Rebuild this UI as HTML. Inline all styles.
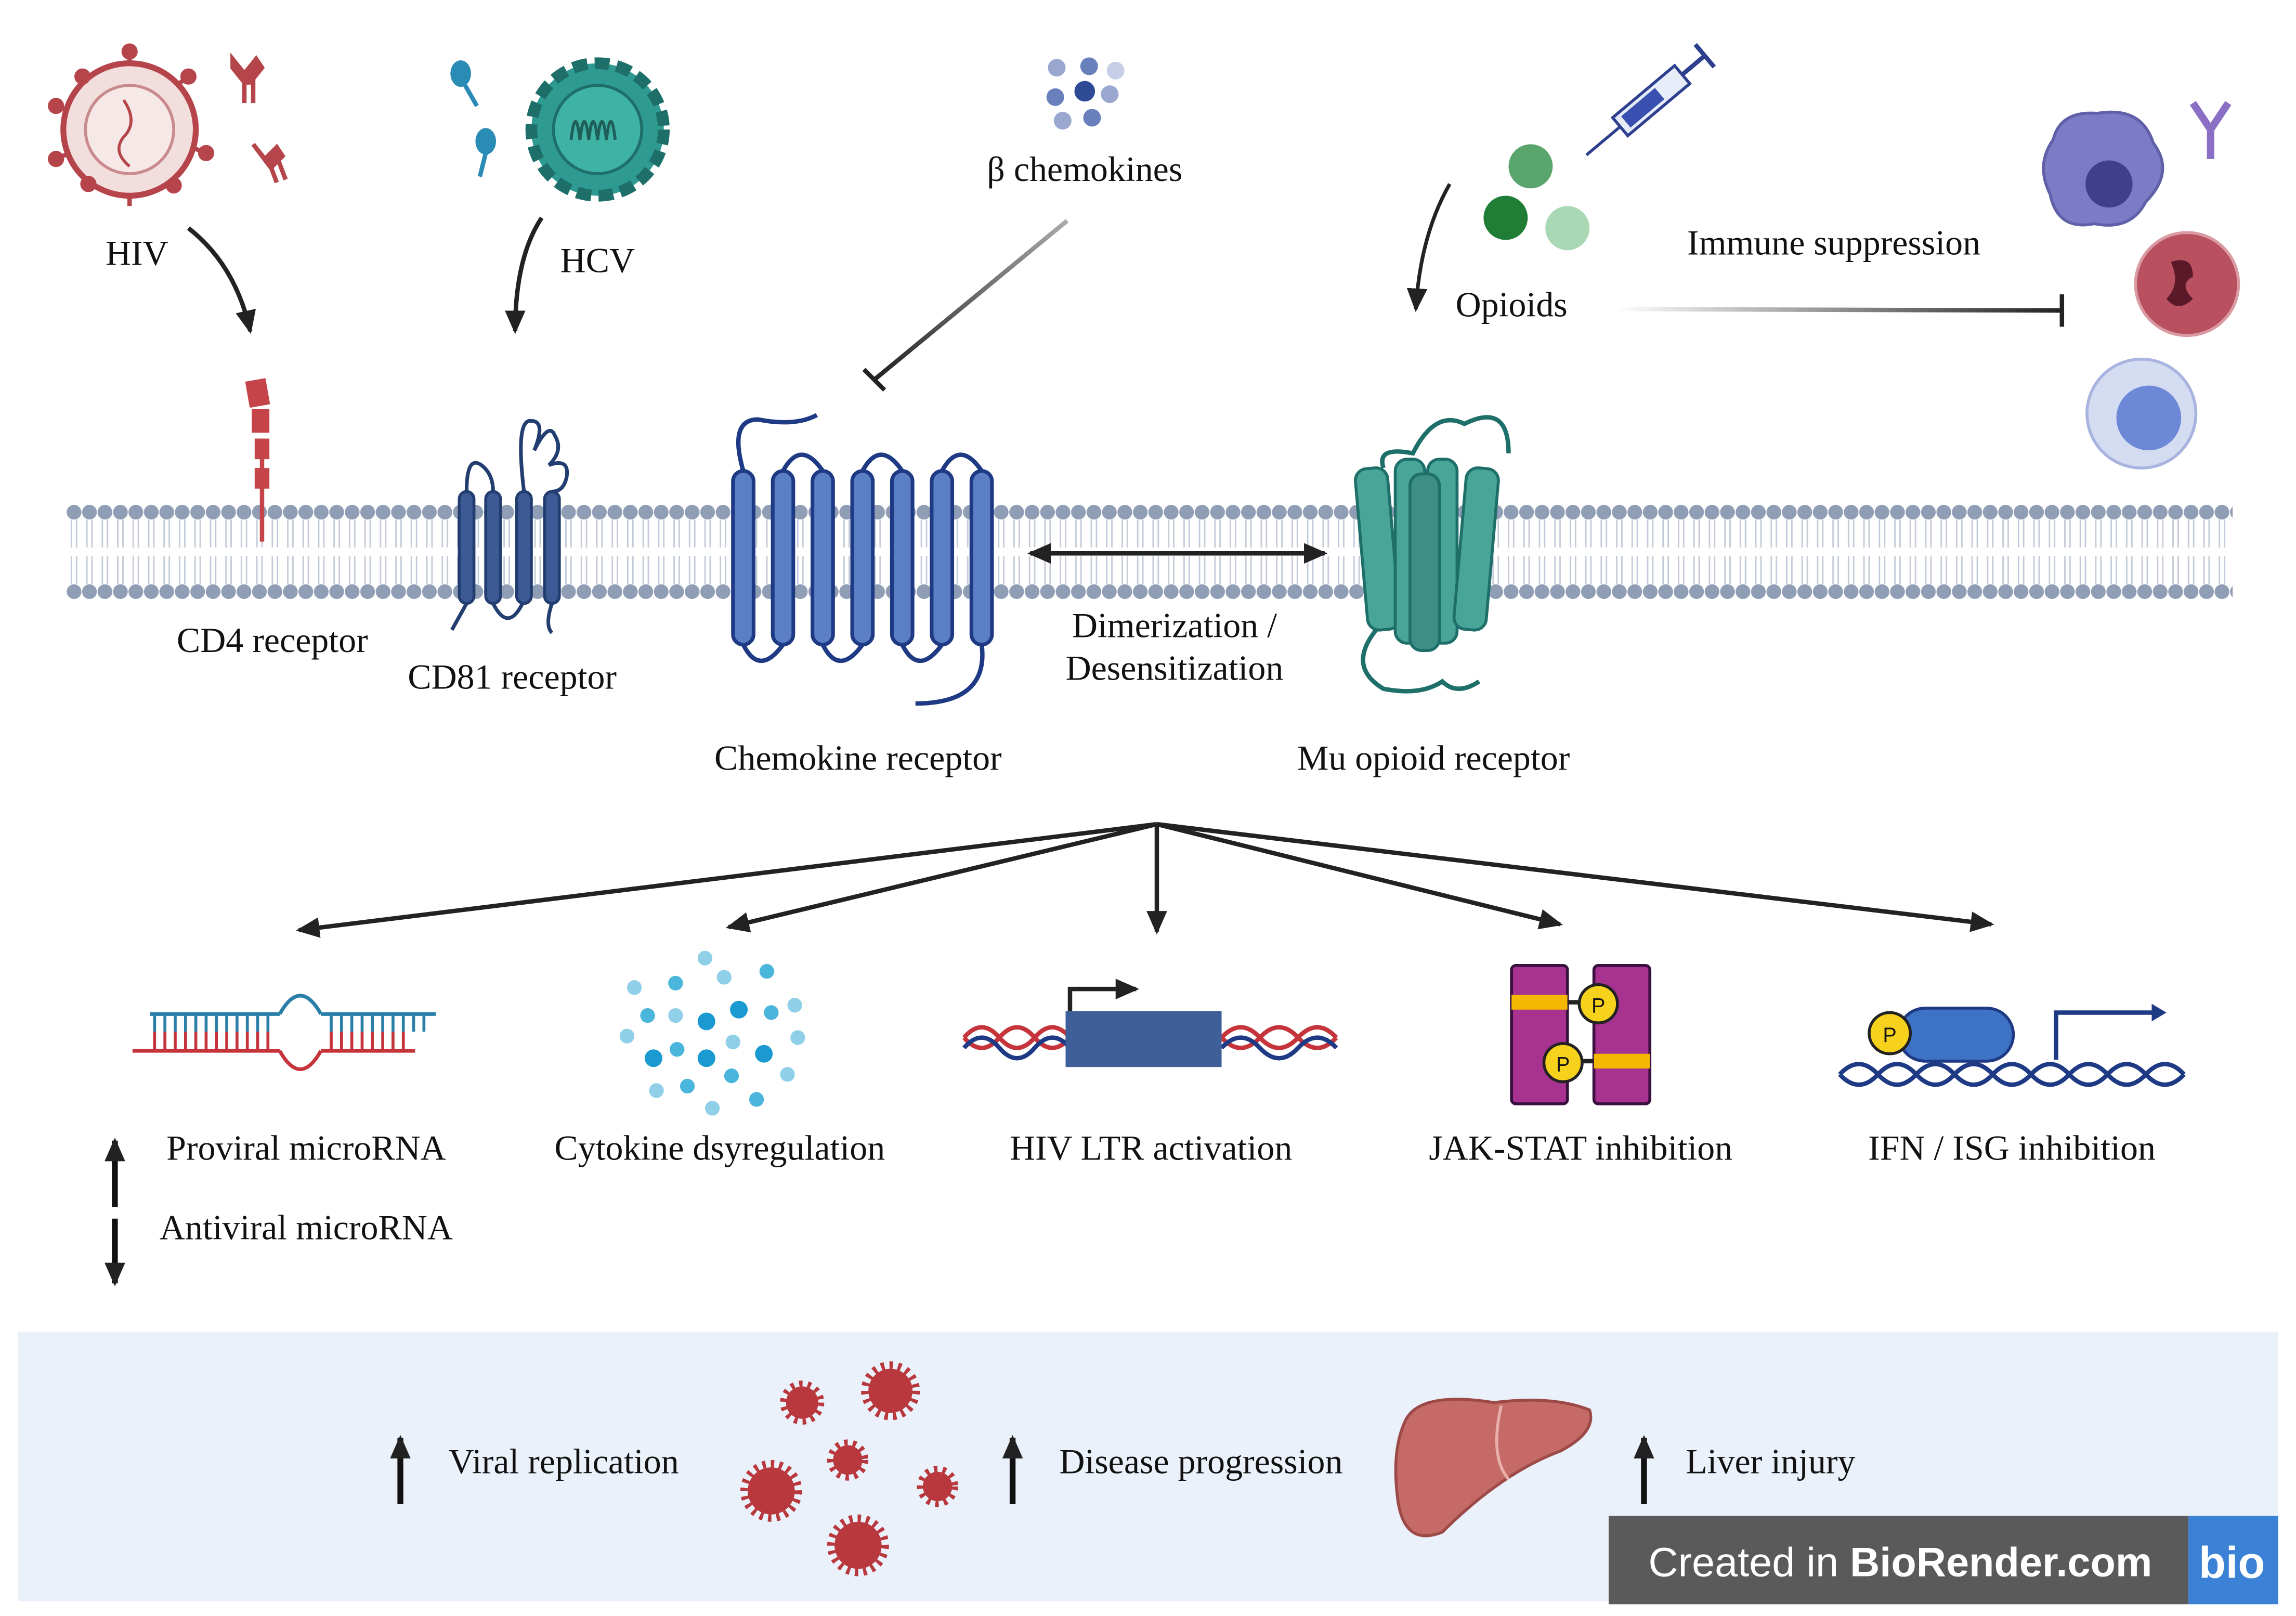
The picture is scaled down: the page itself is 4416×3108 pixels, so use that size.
<!DOCTYPE html>
<html><head><meta charset="utf-8"><style>
html,body{margin:0;padding:0;background:#fff;}
svg{display:block;}
text{font-family:"Liberation Serif",serif;font-size:24px;fill:#111;}
</style></head><body>
<svg width="4416" height="3108" viewBox="0 0 1560 1098" xmlns="http://www.w3.org/2000/svg">
<defs>
<pattern id="lip" x="45" y="0" width="10.5" height="1098" patternUnits="userSpaceOnUse">
<circle cx="5.25" cy="348" r="5" fill="#8f9db5"/>
<circle cx="5.25" cy="402" r="5" fill="#8f9db5"/>
<path d="M3.5 353 L3.5 372 M7 353 L7 372 M3.5 378 L3.5 397 M7 378 L7 397" stroke="#c3cbd8" stroke-width="1"/>
</pattern>
<marker id="ah2" markerWidth="16" markerHeight="14" refX="14" refY="7" orient="auto" markerUnits="userSpaceOnUse"><path d="M0,0 L16,7 L0,14 Z" fill="#222"/></marker>
<marker id="ahs" markerWidth="16" markerHeight="14" refX="2" refY="7" orient="auto" markerUnits="userSpaceOnUse"><path d="M16,0 L0,7 L16,14 Z" fill="#222"/></marker>
<linearGradient id="gl" x1="0" x2="1"><stop offset="0" stop-color="#fff"/><stop offset="1" stop-color="#222"/></linearGradient>
<linearGradient id="gl2" x1="1" y1="0" x2="0" y2="1"><stop offset="0" stop-color="#aaa"/><stop offset="1" stop-color="#222"/></linearGradient>
</defs>

<rect x="45" y="340" width="1472" height="70" fill="url(#lip)"/>

<rect x="12" y="905" width="1536" height="183" fill="#eaf1fa"/>
<rect x="1093" y="1030" width="394" height="60" fill="#5a5a5a"/>
<rect x="1487" y="1030" width="61" height="60" fill="#3b82d6"/>
<text x="1120" y="1071" style="font-family:'Liberation Sans',sans-serif;font-size:28px;fill:#fff">Created in <tspan font-weight="bold">BioRender.com</tspan></text>
<text x="1494" y="1072" style="font-family:'Liberation Sans',sans-serif;font-size:30px;font-weight:bold;fill:#fff">bio</text>

<g>
<circle cx="88" cy="88" r="45" fill="#f3dede" stroke="#b5454a" stroke-width="4"/>
<circle cx="88" cy="88" r="30" fill="#f7e8e8" stroke="#c98a8d" stroke-width="2"/>
<path d="M84 68 q10 15 0 25 q-8 10 4 20" stroke="#b5454a" fill="none" stroke-width="2"/>
<g stroke="#b5454a" stroke-width="3" fill="#b5454a">
<line x1="88" y1="43" x2="88" y2="35"/><circle cx="88" cy="35" r="4"/>
<line x1="45" y1="75" x2="38" y2="72"/><circle cx="38" cy="72" r="4"/>
<line x1="45" y1="105" x2="38" y2="108"/><circle cx="38" cy="108" r="4"/>
<line x1="130" y1="100" x2="140" y2="104"/><circle cx="140" cy="104" r="4"/>
<line x1="120" y1="58" x2="128" y2="52"/><circle cx="128" cy="52" r="4"/>
<line x1="88" y1="133" x2="88" y2="140"/><circle cx="60" cy="125" r="4"/><circle cx="118" cy="126" r="4"/><circle cx="56" cy="52" r="4"/>
</g>
<path d="M158 40 l8 10 l8 -10 l4 6 l-8 10 l-4 0 l-8 -10z M166 52 v18 M172 52 v18" stroke="#b5454a" fill="#b5454a" stroke-width="3"/>
<path d="M172 98 l8 10 l8 -8 l4 6 l-8 8 z M182 108 l6 16 M188 106 l6 16" stroke="#b5454a" fill="#b5454a" stroke-width="3"/>
</g>
<text x="93" y="180" text-anchor="middle">HIV</text>
<path d="M128 155 Q160 180 170 225" stroke="#222" stroke-width="3" fill="none" marker-end="url(#ah2)"/>

<circle cx="406" cy="88" r="45" fill="#2f9a92" stroke="#1e6f69" stroke-width="8" stroke-dasharray="10 5"/>
<circle cx="406" cy="88" r="30" fill="#3fb2a6" stroke="#1e6f69" stroke-width="2"/>
<path d="M388 95 q3 -25 6 0 q3 -25 6 0 q3 -25 6 0 q3 -25 6 0 q3 -25 6 0" stroke="#1e5f5a" fill="none" stroke-width="2"/>
<ellipse cx="313" cy="50" rx="7" ry="9" fill="#2a8bb5"/><path d="M316 58 L324 72" stroke="#2a8bb5" stroke-width="3"/>
<ellipse cx="330" cy="96" rx="7" ry="9" fill="#2a8bb5"/><path d="M330 104 L326 120" stroke="#2a8bb5" stroke-width="3"/>
<text x="406" y="185" text-anchor="middle">HCV</text>
<path d="M368 148 Q350 175 350 225" stroke="#222" stroke-width="3" fill="none" marker-end="url(#ah2)"/>

<g>
<circle cx="718" cy="46" r="6" fill="#9aa8cf"/><circle cx="740" cy="45" r="6" fill="#6a80bd"/><circle cx="758" cy="48" r="6" fill="#c5cee6"/>
<circle cx="717" cy="66" r="6" fill="#6a80bd"/><circle cx="737" cy="62" r="7" fill="#2e4a95"/><circle cx="754" cy="64" r="6" fill="#9aa8cf"/>
<circle cx="722" cy="82" r="6" fill="#9aa8cf"/><circle cx="742" cy="80" r="6" fill="#6a80bd"/>
</g>
<text x="737" y="123" text-anchor="middle">β chemokines</text>
<line x1="725" y1="150" x2="594" y2="258" stroke="url(#gl2)" stroke-width="3"/>
<line x1="587" y1="251" x2="601" y2="265" stroke="#222" stroke-width="3"/>

<circle cx="1040" cy="113" r="15" fill="#5aa56d"/><circle cx="1023" cy="148" r="15" fill="#1f7d36"/><circle cx="1065" cy="155" r="15" fill="#a8d8b4"/>
<g transform="rotate(-40 1120 70)">
<rect x="1095" y="62" width="55" height="16" fill="#e6ecf8" stroke="#2e3f8f" stroke-width="2"/>
<rect x="1100" y="65" width="30" height="10" fill="#3a50b0"/>
<line x1="1150" y1="70" x2="1170" y2="70" stroke="#2e3f8f" stroke-width="3"/><line x1="1170" y1="60" x2="1170" y2="80" stroke="#2e3f8f" stroke-width="3"/>
<line x1="1095" y1="70" x2="1065" y2="70" stroke="#2e3f8f" stroke-width="2"/>
</g>
<text x="1027" y="215" text-anchor="middle">Opioids</text>
<path d="M985 125 Q965 160 962 210" stroke="#222" stroke-width="2.5" fill="none" marker-end="url(#ah2)"/>
<text x="1246" y="173" text-anchor="middle">Immune suppression</text>
<line x1="1097" y1="210" x2="1400" y2="211" stroke="url(#gl)" stroke-width="3"/>
<line x1="1401" y1="200" x2="1401" y2="222" stroke="#222" stroke-width="3"/>

<path d="M1395 95 q5 -20 30 -18 q30 -5 38 20 q15 20 -5 40 q-10 20 -35 15 q-25 5 -30 -20 q-10 -20 2 -37z" fill="#7c7cc6" stroke="#6060a8" stroke-width="2"/>
<circle cx="1433" cy="125" r="16" fill="#3f3f8a"/>
<path d="M1490 70 l12 18 l12 -18 M1502 88 v20" stroke="#8a6fc4" stroke-width="5" fill="none"/>
<circle cx="1486" cy="193" r="35" fill="#b8505f" stroke="#d99aa3" stroke-width="2"/>
<path d="M1475 178 q15 -5 15 10 q-10 5 0 15 q-10 10 -18 0 q10 -10 3 -25z" fill="#5a1828"/>
<circle cx="1455" cy="281" r="37" fill="#d4dcf2" stroke="#a8b4df" stroke-width="2"/>
<circle cx="1460" cy="284" r="22" fill="#6d88d6"/>

<line x1="178" y1="300" x2="178" y2="368" stroke="#c4444a" stroke-width="3"/>
<g fill="#c4444a"><rect x="168" y="258" width="14" height="18" transform="rotate(-10 175 267)"/><rect x="171" y="278" width="12" height="16"/><rect x="173" y="298" width="10" height="14"/><rect x="173" y="318" width="10" height="14"/></g>
<text x="185" y="443" text-anchor="middle">CD4 receptor</text>

<g fill="#3d5a94" stroke="#223d70" stroke-width="2">
<rect x="312" y="334" width="10" height="76" rx="5"/><rect x="330" y="334" width="10" height="76" rx="5"/><rect x="351" y="334" width="10" height="76" rx="5"/><rect x="370" y="334" width="10" height="76" rx="5"/>
</g>
<path d="M317 334 q0 -25 10 -18 q8 6 8 18 M356 334 q-6 -50 5 -48 q10 0 2 20 q10 -20 14 -10 q6 10 -4 20 q14 -5 12 8 q-2 10 -10 10" stroke="#223d70" stroke-width="2.5" fill="none"/>
<path d="M317 410 q-10 18 -10 18 M335 410 q10 20 20 0 M375 410 q-5 15 0 20" stroke="#223d70" stroke-width="2.5" fill="none"/>
<text x="348" y="468" text-anchor="middle">CD81 receptor</text>

<g fill="#5b7fc4" stroke="#1f3a85" stroke-width="2.5">
<rect x="498" y="320" width="14" height="118" rx="7"/><rect x="525" y="320" width="14" height="118" rx="7"/><rect x="552" y="320" width="14" height="118" rx="7"/><rect x="579" y="320" width="14" height="118" rx="7"/><rect x="606" y="320" width="14" height="118" rx="7"/><rect x="633" y="320" width="14" height="118" rx="7"/><rect x="660" y="320" width="14" height="118" rx="7"/>
</g>
<path d="M505 320 Q495 285 515 285 Q540 290 555 282 M532 320 q12 -22 27 0 M586 320 q12 -22 27 0 M640 320 q12 -22 27 0 M505 438 q11 22 27 0 M559 438 q11 22 27 0 M613 438 q11 22 27 0 M667 438 q5 40 -45 40" stroke="#1f3a85" stroke-width="3" fill="none"/>
<text x="583" y="523" text-anchor="middle">Chemokine receptor</text>

<line x1="700" y1="376" x2="900" y2="376" stroke="#222" stroke-width="3" marker-start="url(#ahs)" marker-end="url(#ah2)"/>
<text x="798" y="433" text-anchor="middle">Dimerization /</text>
<text x="798" y="462" text-anchor="middle">Desensitization</text>

<g fill="#4aa599" stroke="#1e6f69" stroke-width="2">
<rect x="925" y="318" width="22" height="110" rx="8" transform="rotate(-5 936 373)"/>
<rect x="948" y="312" width="20" height="125" rx="8"/>
<rect x="970" y="312" width="20" height="125" rx="8"/>
<rect x="992" y="318" width="22" height="110" rx="8" transform="rotate(5 1003 373)"/>
<rect x="958" y="322" width="20" height="120" rx="8" fill="#3d8f85"/>
</g>
<path d="M940 318 q-5 -15 20 -10 q15 -30 35 -20 q30 -15 30 20 M935 428 q-20 25 5 40 q25 5 40 -5 q10 10 25 0" stroke="#1e6f69" stroke-width="3" fill="none"/>
<text x="974" y="523" text-anchor="middle">Mu opioid receptor</text>

<g stroke="#222" stroke-width="3" fill="none">
<line x1="786" y1="560" x2="203" y2="632" marker-end="url(#ah2)"/>
<line x1="786" y1="560" x2="495" y2="630" marker-end="url(#ah2)"/>
<line x1="786" y1="560" x2="786" y2="633" marker-end="url(#ah2)"/>
<line x1="786" y1="560" x2="1060" y2="628" marker-end="url(#ah2)"/>
<line x1="786" y1="560" x2="1353" y2="628" marker-end="url(#ah2)"/>
</g>

<g stroke-width="2.5">
<line x1="102" y1="689" x2="190" y2="689" stroke="#2a7fa8"/><line x1="218" y1="689" x2="296" y2="689" stroke="#2a7fa8"/>
<line x1="90" y1="714" x2="190" y2="714" stroke="#c4343a"/><line x1="218" y1="714" x2="282" y2="714" stroke="#c4343a"/>
<path d="M190 689 q14 -25 28 0" stroke="#2a7fa8" fill="none"/><path d="M190 714 q14 25 28 0" stroke="#c4343a" fill="none"/>
<path d="M105 689 v12 M112 689 v12 M119 689 v12 M126 689 v12 M133 689 v12 M140 689 v12 M147 689 v12 M154 689 v12 M161 689 v12 M168 689 v12 M175 689 v12 M182 689 v12 M225 689 v12 M232 689 v12 M239 689 v12 M246 689 v12 M253 689 v12 M260 689 v12 M267 689 v12 M274 689 v12 M281 689 v12 M288 689 v12" stroke="#2a7fa8" stroke-width="2"/>
<path d="M105 701 v13 M112 701 v13 M119 701 v13 M126 701 v13 M133 701 v13 M140 701 v13 M147 701 v13 M154 701 v13 M161 701 v13 M168 701 v13 M175 701 v13 M182 701 v13 M225 701 v13 M232 701 v13 M239 701 v13 M246 701 v13 M253 701 v13 M260 701 v13 M267 701 v13 M274 701 v13" stroke="#c4343a" stroke-width="2"/>
</g>
<text x="208" y="788" text-anchor="middle">Proviral microRNA</text>
<text x="208" y="842" text-anchor="middle">Antiviral microRNA</text>
<line x1="78" y1="820" x2="78" y2="775" stroke="#111" stroke-width="4" marker-end="url(#ah2)"/>
<line x1="78" y1="828" x2="78" y2="872" stroke="#111" stroke-width="4" marker-end="url(#ah2)"/>

<g>
<circle cx="479" cy="651" r="5" fill="#8fd0e8"/><circle cx="431" cy="671" r="5" fill="#8fd0e8"/><circle cx="459" cy="668" r="5" fill="#4bb6dc"/><circle cx="492" cy="664" r="5" fill="#8fd0e8"/><circle cx="521" cy="660" r="5" fill="#4bb6dc"/>
<circle cx="440" cy="690" r="5" fill="#4bb6dc"/><circle cx="459" cy="690" r="5" fill="#8fd0e8"/><circle cx="480" cy="694" r="6" fill="#1a9ad0"/><circle cx="502" cy="686" r="6" fill="#1a9ad0"/><circle cx="524" cy="688" r="5" fill="#4bb6dc"/><circle cx="540" cy="683" r="5" fill="#8fd0e8"/>
<circle cx="426" cy="704" r="5" fill="#8fd0e8"/><circle cx="444" cy="719" r="6" fill="#1a9ad0"/><circle cx="460" cy="713" r="5" fill="#4bb6dc"/><circle cx="480" cy="719" r="6" fill="#1a9ad0"/><circle cx="498" cy="708" r="5" fill="#8fd0e8"/><circle cx="519" cy="716" r="6" fill="#1a9ad0"/><circle cx="542" cy="705" r="5" fill="#8fd0e8"/>
<circle cx="446" cy="741" r="5" fill="#8fd0e8"/><circle cx="467" cy="738" r="5" fill="#4bb6dc"/><circle cx="497" cy="731" r="5" fill="#4bb6dc"/><circle cx="535" cy="730" r="5" fill="#8fd0e8"/><circle cx="484" cy="753" r="5" fill="#8fd0e8"/><circle cx="514" cy="747" r="5" fill="#4bb6dc"/>
</g>
<text x="489" y="788" text-anchor="middle">Cytokine dsyregulation</text>

<path d="M655 705 q12 -14 24 0 t24 0 t24 0 M655 705 q12 14 24 0 t24 0 t24 0 M830 705 q13 -14 26 0 t26 0 t26 0 M830 705 q13 14 26 0 t26 0 t26 0" stroke="#c4343a" stroke-width="3" fill="none"/>
<path d="M655 712 q12 -14 24 0 t24 0 t24 0 M830 712 q13 -14 26 0 t26 0 t26 0" stroke="#1f3a85" stroke-width="3" fill="none"/>
<rect x="724" y="687" width="106" height="38" fill="#3f5f98"/>
<path d="M727 687 v-15 h45" stroke="#222" stroke-width="3" fill="none" marker-end="url(#ah2)"/>
<text x="782" y="788" text-anchor="middle">HIV LTR activation</text>

<rect x="1027" y="656" width="38" height="94" rx="3" fill="#a8328f" stroke="#3a1040" stroke-width="2"/>
<rect x="1083" y="656" width="38" height="94" rx="3" fill="#a8328f" stroke="#3a1040" stroke-width="2"/>
<rect x="1027" y="676" width="38" height="10" fill="#f5b800"/><rect x="1083" y="716" width="38" height="10" fill="#f5b800"/>
<line x1="1065" y1="681" x2="1085" y2="681" stroke="#222" stroke-width="3"/><line x1="1063" y1="721" x2="1083" y2="721" stroke="#222" stroke-width="3"/>
<circle cx="1086" cy="682" r="13" fill="#f7d21c" stroke="#222" stroke-width="2"/><text x="1086" y="688" text-anchor="middle" style="font-family:'Liberation Sans',sans-serif;font-size:14px">P</text>
<circle cx="1062" cy="722" r="13" fill="#f7d21c" stroke="#222" stroke-width="2"/><text x="1062" y="728" text-anchor="middle" style="font-family:'Liberation Sans',sans-serif;font-size:14px">P</text>
<text x="1074" y="788" text-anchor="middle">JAK-STAT inhibition</text>

<path d="M1250 730 q13 -14 26 0 t26 0 t26 0 t26 0 t26 0 t26 0 t26 0 t26 0 t26 0 M1250 730 q13 14 26 0 t26 0 t26 0 t26 0 t26 0 t26 0 t26 0 t26 0 t26 0" stroke="#1f3a85" stroke-width="3" fill="none"/>
<rect x="1290" y="685" width="78" height="36" rx="18" fill="#3d72c4" stroke="#1f3a85" stroke-width="2"/>
<circle cx="1284" cy="702" r="14" fill="#f7d21c" stroke="#222" stroke-width="2"/><text x="1284" y="708" text-anchor="middle" style="font-family:'Liberation Sans',sans-serif;font-size:14px">P</text>
<path d="M1397 720 v-32 h70" stroke="#1f3a85" stroke-width="3" fill="none"/><path d="M1462 682 l10 6 l-10 6z" fill="#1f3a85"/>
<text x="1367" y="788" text-anchor="middle">IFN / ISG inhibition</text>

<line x1="272" y1="1022" x2="272" y2="977" stroke="#111" stroke-width="4" marker-end="url(#ah2)"/>
<text x="383" y="1001" text-anchor="middle">Viral replication</text>
<g fill="#b8383d" stroke="#b8383d" stroke-width="3" stroke-dasharray="2 3">
<circle cx="545" cy="953" r="11" stroke-width="8"/><circle cx="605" cy="945" r="15" stroke-width="10"/><circle cx="576" cy="992" r="10" stroke-width="8"/>
<circle cx="524" cy="1013" r="16" stroke-width="10"/><circle cx="637" cy="1010" r="10" stroke-width="8"/><circle cx="583" cy="1050" r="16" stroke-width="10"/>
</g>
<line x1="688" y1="1022" x2="688" y2="977" stroke="#111" stroke-width="4" marker-end="url(#ah2)"/>
<text x="816" y="1001" text-anchor="middle">Disease progression</text>
<path d="M955 965 q10 -20 60 -12 q40 -5 65 5 q5 15 -20 28 q-40 15 -80 55 q-25 10 -30 -20 q-5 -35 5 -56z" fill="#c56a66" stroke="#9c4a48" stroke-width="2"/>
<path d="M1020 955 q-8 35 5 50" stroke="#e8b0a8" stroke-width="2" fill="none"/>
<line x1="1117" y1="1022" x2="1117" y2="977" stroke="#111" stroke-width="4" marker-end="url(#ah2)"/>
<text x="1203" y="1001" text-anchor="middle">Liver injury</text>
</svg>
</body></html>
